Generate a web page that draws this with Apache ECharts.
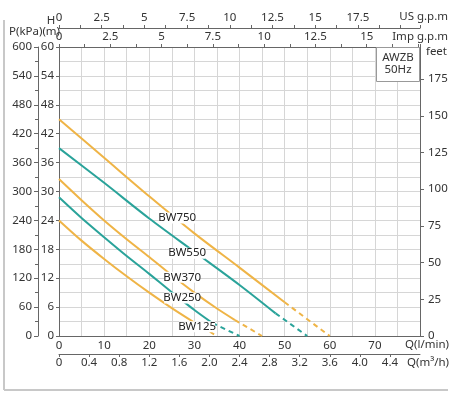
<!DOCTYPE html>
<html>
<head>
<meta charset="utf-8">
<script src="https://cdn.jsdelivr.net/npm/echarts@6/dist/echarts.min.js"></script>
<style>
  html, body { margin: 0; padding: 0; background: #fff; }
  #chart { width: 463px; height: 394px; }
</style>
</head>
<body>
<div id="chart"></div>
<script>
// pump curves, flow in l/min, head in m
const flowBW750 = [0, 10, 20, 30, 40, 50, 60];
const headBW750 = [45, 37, 29, 21.3, 14.2, 7, 0];
const flowBW550 = [0, 10, 20, 30, 40, 48, 55];
const headBW550 = [39, 31.8, 24.4, 17.5, 10.6, 4.7, 0];
const flowBW370 = [0, 5, 10, 15, 20, 25, 30, 35, 39, 45];
const headBW370 = [32.6, 28.2, 24, 20.1, 16.4, 12.6, 9, 5.7, 3.3, 0];
const flowBW250 = [0, 5, 10, 15, 20, 25, 30, 34, 40];
const headBW250 = [28.8, 24.5, 20.5, 16.6, 12.9, 9.1, 5.4, 2.7, 0];
const flowBW125 = [0, 5, 10, 15, 20, 25, 30, 35];
const headBW125 = [24, 19.8, 16, 12.4, 9, 5.8, 2.8, 0];

// where each curve turns dashed (index into the arrays above)
const dashFrom = { BW750: 5, BW550: 5, BW370: 8, BW250: 7, BW125: 6 };
// where the model name sits on the curve [l/min, m]
const nameAt = {
  BW750: [26.2, 24.5],
  BW550: [28.4, 17.2],
  BW370: [27.3, 12.2],
  BW250: [27.3, 7.9],
  BW125: [30.6, 1.9]
};

const flowMax = 80;   // l/min
const headMax = 60;   // m
// unit conversions for the extra axes
const m3hPerLpm = 0.06;
const impPerLpm = 1 / 4.546;
const usPerLpm = 1 / 3.785;
const kpaPerM = 10;
const ftPerM = 3.2808;

const yellow = '#efb446';
const teal = '#2aa39a';
const axisColor = '#666';
const gridColor = '#d6d6d6';
const textColor = '#333';
const font = 'Noto Sans';
const fontSize = 11.5;
const fontCss = fontSize + 'px "Noto Sans"';

function pumpSeries(name, flow, head, color) {
  const pts = flow.map((q, i) => [q, head[i]]);
  const cut = dashFrom[name];
  return [
    {
      name: name,
      type: 'line',
      xAxisIndex: 0,
      yAxisIndex: 0,
      data: pts.slice(0, cut + 1),
      smooth: 0.3,
      symbol: 'none',
      lineStyle: { color: color, width: 2 },
      itemStyle: { color: color },
      markPoint: {
        symbol: 'rect',
        symbolSize: [36, 11],
        itemStyle: { color: '#fff' },
        label: {
          show: true,
          position: 'inside',
          formatter: name,
          color: '#222',
          fontFamily: font,
          fontSize: fontSize
        },
        data: [{ coord: nameAt[name] }]
      }
    },
    {
      name: name + ' (dashed)',
      type: 'line',
      xAxisIndex: 0,
      yAxisIndex: 0,
      data: pts.slice(cut),
      symbol: 'none',
      lineStyle: { color: color, width: 2, type: [5, 4] }
    }
  ];
}

const chart = echarts.init(document.getElementById('chart'));

const labelStyle = { color: textColor, fontFamily: font, fontSize: fontSize };
const lineStyle = { color: axisColor, width: 1 };

const option = {
  animation: false,
  backgroundColor: '#fff',
  grid: { left: 59, right: 43, top: 47, bottom: 58, outerBoundsMode: 'none' },
  xAxis: [
    {
      type: 'value',
      position: 'bottom',
      min: 0,
      max: flowMax,
      interval: 10,
      axisLine: { show: true, onZero: false, lineStyle: lineStyle },
      axisTick: { show: false },
      axisLabel: Object.assign({ margin: 4, showMaxLabel: false }, labelStyle),
      splitLine: { show: true, lineStyle: { color: gridColor } },
      minorTick: { show: false, splitNumber: 2 },
      minorSplitLine: { show: true, lineStyle: { color: gridColor } }
    },
    {
      type: 'value',
      position: 'bottom',
      offset: 18,
      min: 0,
      max: flowMax * m3hPerLpm,
      interval: 0.4,
      axisLine: { show: true, onZero: false, lineStyle: lineStyle },
      axisTick: { show: true, length: 3, lineStyle: lineStyle },
      axisLabel: Object.assign({
        margin: 3,
        showMaxLabel: false,
        formatter: v => (v === 0 ? '0' : v.toFixed(1))
      }, labelStyle),
      splitLine: { show: false }
    },
    {
      type: 'value',
      position: 'top',
      min: 0,
      max: flowMax * impPerLpm,
      interval: 2.5,
      axisLine: { show: true, onZero: false, lineStyle: lineStyle },
      axisTick: { show: true, length: 3, lineStyle: lineStyle },
      minorTick: { show: true, splitNumber: 2, length: 3, lineStyle: lineStyle },
      axisLabel: Object.assign({
        margin: 4,
        formatter: v => (v >= 17.5 ? '' : String(v))
      }, labelStyle),
      splitLine: { show: false }
    },
    {
      type: 'value',
      position: 'top',
      offset: 19,
      min: 0,
      max: flowMax * usPerLpm,
      interval: 2.5,
      axisLine: { show: true, onZero: false, lineStyle: lineStyle },
      axisTick: { show: true, length: 3, lineStyle: lineStyle },
      minorTick: { show: true, splitNumber: 2, length: 3, lineStyle: lineStyle },
      axisLabel: Object.assign({
        margin: 4,
        formatter: v => (v >= 20 ? '' : String(v))
      }, labelStyle),
      splitLine: { show: false }
    }
  ],
  yAxis: [
    {
      type: 'value',
      position: 'left',
      min: 0,
      max: headMax,
      interval: 6,
      axisLine: { show: true, onZero: false, lineStyle: lineStyle },
      axisTick: { show: true, length: 3, lineStyle: lineStyle },
      axisLabel: Object.assign({ margin: 5 }, labelStyle),
      splitLine: { show: true, lineStyle: { color: gridColor } },
      minorTick: { show: false, splitNumber: 2 },
      minorSplitLine: { show: true, lineStyle: { color: gridColor } }
    },
    {
      type: 'value',
      position: 'left',
      offset: 21,
      min: 0,
      max: headMax * kpaPerM,
      interval: 60,
      axisLine: { show: true, onZero: false, lineStyle: lineStyle },
      axisTick: { show: true, length: 4, lineStyle: lineStyle },
      minorTick: { show: true, splitNumber: 2, length: 3, lineStyle: lineStyle },
      axisLabel: Object.assign({ margin: 6 }, labelStyle),
      splitLine: { show: false }
    },
    {
      type: 'value',
      position: 'right',
      min: 0,
      max: headMax * ftPerM,
      interval: 25,
      axisLine: { show: true, onZero: false, lineStyle: lineStyle },
      axisTick: { show: true, length: 4, lineStyle: lineStyle },
      axisLabel: Object.assign({ margin: 8, showMaxLabel: false }, labelStyle),
      splitLine: { show: false }
    }
  ],
  series: [].concat(
    pumpSeries('BW750', flowBW750, headBW750, yellow),
    pumpSeries('BW550', flowBW550, headBW550, teal),
    pumpSeries('BW370', flowBW370, headBW370, yellow),
    pumpSeries('BW250', flowBW250, headBW250, teal),
    pumpSeries('BW125', flowBW125, headBW125, yellow)
  ),
  graphic: [
    // frame
    { type: 'line', z: 100, shape: { x1: 4, y1: 20, x2: 4, y2: 390 }, style: { stroke: '#c8c8c8', lineWidth: 2 } },
    { type: 'line', z: 100, shape: { x1: 4, y1: 390, x2: 448, y2: 390 }, style: { stroke: '#c8c8c8', lineWidth: 2 } },
    // model box
    { type: 'rect', z: 100, shape: { x: 376.5, y: 47.5, width: 43, height: 34 }, style: { fill: '#fff', stroke: '#999', lineWidth: 1 } },
    { type: 'text', z: 101, x: 398, y: 64, style: { text: 'AWZB\n50Hz', fill: textColor, font: fontCss, lineHeight: 12, align: 'center', verticalAlign: 'middle' } },
    // axis names
    { type: 'text', z: 101, x: 9, y: 32, style: { text: 'P(kPa)(m)', fill: textColor, font: fontCss, verticalAlign: 'middle' } },
    { type: 'text', z: 101, x: 51, y: 21, style: { text: 'H', fill: textColor, font: fontCss, align: 'center', verticalAlign: 'middle' } },
    { type: 'text', z: 101, x: 448, y: 17, style: { text: 'US g.p.m', fill: textColor, font: fontCss, align: 'right', verticalAlign: 'middle' } },
    { type: 'text', z: 101, x: 448, y: 37, style: { text: 'Imp g.p.m', fill: textColor, font: fontCss, align: 'right', verticalAlign: 'middle' } },
    { type: 'text', z: 101, x: 447, y: 52, style: { text: 'feet', fill: textColor, font: fontCss, align: 'right', verticalAlign: 'middle' } },
    { type: 'text', z: 101, x: 449, y: 345, style: { text: 'Q(l/min)', fill: textColor, font: fontCss, align: 'right', verticalAlign: 'middle' } },
    { type: 'text', z: 101, x: 449, y: 363, style: { text: 'Q(m³/h)', fill: textColor, font: fontCss, align: 'right', verticalAlign: 'middle' } }
  ]
};

chart.setOption(option);
</script>
</body>
</html>
